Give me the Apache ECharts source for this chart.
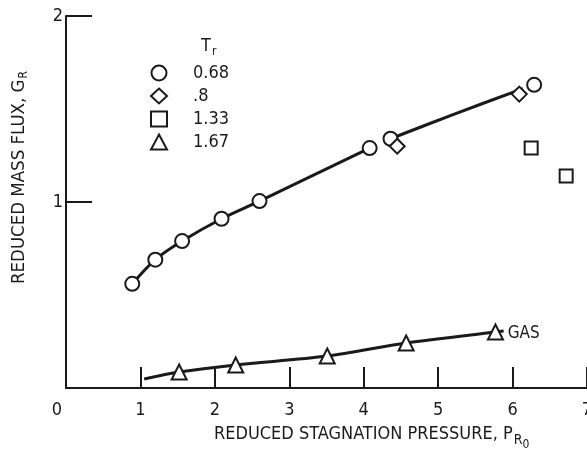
<!DOCTYPE html>
<html><head><meta charset="utf-8">
<script src="https://cdn.jsdelivr.net/npm/echarts@6/dist/echarts.min.js"></script>
<style>html,body{margin:0;padding:0;background:#fff}#c{width:587px;height:461px}</style>
</head><body><div id="c"></div>
<script>
// Data
const circleX = [0.89, 1.20, 1.56, 2.09, 2.60, 4.08, 4.36, 6.29];
const circleY = [0.56, 0.69, 0.79, 0.91, 1.005, 1.29, 1.34, 1.63];
const diamondX = [4.45, 6.09];
const diamondY = [1.30, 1.58];
const squareX = [6.25, 6.72];
const squareY = [1.29, 1.14];
const triangleX = [1.52, 2.28, 3.51, 4.57, 5.77];
const triangleY = [0.086, 0.124, 0.172, 0.242, 0.301];
const upperCurveX = [0.89, 1.20, 1.56, 2.09, 2.60, 4.08, null, 4.36, 5.20, 6.14];
const upperCurveY = [0.56, 0.69, 0.79, 0.91, 1.005, 1.29, null, 1.34, 1.47, 1.61];
const lowerCurveX = [1.05, 1.52, 2.28, 3.51, 4.57, 5.77, 5.88];
const lowerCurveY = [0.048, 0.086, 0.124, 0.172, 0.242, 0.301, 0.306];
const legendNames = ['0.68', '.8', '1.33', '1.67'];
const xTicks = [0, 1, 2, 3, 4, 5, 6, 7];
const yTicks = [1, 2];

const FONT = '"DejaVu Sans Condensed", "DejaVu Sans", sans-serif';
const INK = '#1a1a1a';
const zip = (xs, ys) => xs.map((x, i) => (x === null ? [null, null] : [x, ys[i]]));
const mk = (name, symbol, size, xs, ys) => ({
  name, type: 'scatter', symbol, symbolSize: size, data: zip(xs, ys), z: 5,
  itemStyle: { color: '#fff', borderColor: INK, borderWidth: 2, opacity: 1 }
});

const chart = echarts.init(document.getElementById('c'), null, { renderer: 'canvas' });
chart.setOption({
  animation: false,
  backgroundColor: '#fff',
  grid: { left: 66, right: 0, top: 16, bottom: 73, containLabel: false, outerBoundsMode: 'none' },
  legend: {
    data: legendNames, orient: 'vertical', left: 145, top: 59,
    itemWidth: 16, itemHeight: 15, itemGap: 5,
    textStyle: { fontFamily: FONT, fontSize: 18, color: INK, padding: [0, 0, 0, 21] },
    selectedMode: false
  },
  xAxis: {
    type: 'value', min: 0, max: 7, interval: 1,
    axisLine: { show: true, lineStyle: { color: INK, width: 2 } },
    axisTick: { show: true, inside: true, length: 21, lineStyle: { color: INK, width: 2 } },
    axisLabel: { margin: 13, fontFamily: FONT, fontSize: 18, color: INK, showMaxLabel: true,
      formatter: v => v === 0 ? '{z|0}' : (xTicks.includes(v) ? String(v) : ''),
      rich: { z: { fontFamily: FONT, fontSize: 18, color: INK, padding: [0, 18, 0, 0] } } },
    splitLine: { show: false }
  },
  yAxis: {
    type: 'value', min: 0, max: 2, interval: 1,
    axisLine: { show: true, lineStyle: { color: INK, width: 2 } },
    axisTick: { show: true, inside: true, length: 26, lineStyle: { color: INK, width: 2 } },
    axisLabel: { margin: 3, fontFamily: FONT, fontSize: 18, color: INK,
      formatter: v => yTicks.includes(v) ? String(v) : '' },
    splitLine: { show: false }
  },
  graphic: [
    { type: 'text', left: 201, top: 37,
      style: { text: '{a|T}{s|r}', fill: INK,
        rich: { a: { fontFamily: FONT, fontSize: 18, fill: INK },
                s: { fontFamily: FONT, fontSize: 12, fill: INK, padding: [12, 0, 0, 1] } } } },
    { type: 'text', x: 8, y: 284, rotation: Math.PI / 2,
      style: { text: '{a|REDUCED MASS FLUX, G}{s|R}', fill: INK,
        rich: { a: { fontFamily: FONT, fontSize: 18.5, fill: INK },
                s: { fontFamily: FONT, fontSize: 12, fill: INK, padding: [10, 0, 0, 1] } } } },
    { type: 'text', left: 214, top: 425,
      style: { text: '{a|REDUCED STAGNATION PRESSURE, P}{s|R}{t|0}', fill: INK,
        rich: { a: { fontFamily: FONT, fontSize: 18, fill: INK },
                s: { fontFamily: FONT, fontSize: 14, fill: INK, padding: [12, 0, 0, 1] },
                t: { fontFamily: FONT, fontSize: 12, fill: INK, padding: [22, 0, 0, 0] } } } }
  ],
  series: [
    { name: 'upperFit', type: 'line', data: zip(upperCurveX, upperCurveY), smooth: 0.3,
      showSymbol: false, connectNulls: false, lineStyle: { color: INK, width: 3 }, z: 3 },
    { name: 'lowerFit', type: 'line', data: zip(lowerCurveX, lowerCurveY), smooth: 0.3,
      showSymbol: false, lineStyle: { color: INK, width: 3 }, z: 3,
      endLabel: { show: true, formatter: 'GAS', fontFamily: FONT, fontSize: 17, color: INK,
        distance: 3, offset: [1, 2] } },
    mk(legendNames[0], 'circle', 14, circleX, circleY),
    mk(legendNames[1], 'diamond', 15, diamondX, diamondY),
    mk(legendNames[2], 'rect', 13, squareX, squareY),
    mk(legendNames[3], 'triangle', 15, triangleX, triangleY)
  ]
});
</script></body></html>
